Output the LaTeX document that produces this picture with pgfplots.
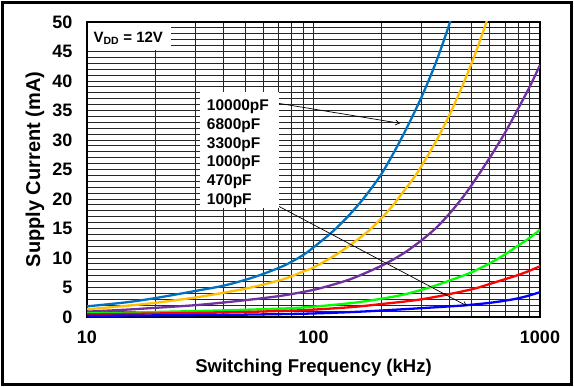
\documentclass[border=0pt]{standalone}
\usepackage{pgfplots}
\pgfplotsset{compat=1.18}
\usepackage{fontspec}
\setmainfont{Liberation Sans}
\usetikzlibrary{arrows.meta}
\definecolor{cA}{HTML}{0070C0}
\definecolor{cB}{HTML}{FFC000}
\definecolor{cC}{HTML}{7030A0}
\definecolor{cD}{HTML}{00FF00}
\definecolor{cE}{HTML}{FF0000}
\definecolor{cF}{HTML}{0000FF}
\begin{document}
\begin{tikzpicture}
\useasboundingbox (0pt,0pt) rectangle (574pt,387pt);
\begin{axis}[
  at={(87pt,70pt)}, anchor=south west,
  scale only axis, width=453pt, height=295pt,
  xmode=log, xmin=10, xmax=1000, ymin=0, ymax=50,
  xtick={10,100,1000}, xticklabels={10,100,1000},
  ytick={0,5,...,50}, minor y tick num=4,
  grid=both,
  major grid style={black!85, line width=0.8pt},
  minor grid style={black!85, line width=0.8pt},
  axis line style={line width=1.5pt},
  major tick length=0pt, minor tick length=0pt,
  tick label style={font=\bfseries\fontsize{18}{18}\selectfont},
  /pgf/number format/assume math mode=true,
  xticklabel style={yshift=-10pt},
  yticklabel style={xshift=-11pt},
  xlabel={\bfseries\fontsize{18.5}{18.5}\selectfont Switching Frequency (kHz)},
  ylabel={\bfseries\fontsize{20}{20}\selectfont Supply Current (mA)},
  xlabel style={at={(axis description cs:0.5,-0.1729)}, anchor=center},
  ylabel style={at={(axis description cs:-0.1148,0.5)}, anchor=center},
  every axis plot/.append style={line width=2.3pt, smooth, no marks},
  clip=true,
]
% 10000pF
\addplot[cA] coordinates {(10,1.8) (15,2.5) (20,3.2) (30,4.4) (40,5.3) (50,6.3) (60,7.3) (75,8.8) (90,10.5) (100,11.8) (120,14.3) (140,16.8) (160,19.3) (180,21.8) (200,24.3) (225,27.7) (250,31.0) (275,34.2) (300,37.3) (325,40.4) (350,43.5) (375,46.7) (400,49.9) (410,51.2)};
% 6800pF
\addplot[cB] coordinates {(10,1.3) (15,1.9) (20,2.4) (30,3.3) (40,4.1) (50,4.8) (60,5.5) (75,6.5) (90,7.7) (100,8.4) (125,10.5) (150,12.6) (175,14.6) (200,16.8) (225,19.0) (250,21.3) (275,23.4) (300,25.6) (350,30.0) (400,34.4) (450,38.8) (500,43.1) (550,47.4) (600,51.7)};
% 3300pF
\addplot[cC] coordinates {(10,0.9) (15,1.25) (20,1.55) (30,2.0) (40,2.45) (50,2.85) (60,3.2) (75,3.7) (100,4.6) (125,5.6) (150,6.6) (200,8.7) (250,10.8) (300,13.0) (350,15.2) (400,17.6) (450,20.0) (500,22.4) (600,27.0) (700,31.2) (800,35.3) (900,39.0) (1000,42.7)};
% 1000pF
\addplot[cD] coordinates {(10,0.6) (20,0.85) (38,1.1) (75,1.45) (100,1.75) (150,2.4) (200,3.1) (250,3.8) (300,4.6) (350,5.4) (400,6.2) (450,6.9) (500,7.6) (600,9.1) (700,10.6) (800,12.1) (900,13.4) (1000,14.8)};
% 470pF
\addplot[cE] coordinates {(10,0.45) (38,0.75) (75,1.05) (100,1.25) (150,1.7) (200,2.2) (250,2.6) (300,3.0) (350,3.45) (400,3.9) (450,4.3) (525,4.9) (600,5.6) (700,6.4) (800,7.1) (900,7.85) (1000,8.6)};
% 100pF
\addplot[cF] coordinates {(10,0.2) (38,0.35) (75,0.5) (100,0.6) (150,0.85) (200,1.1) (300,1.5) (400,1.8) (474,2.0) (600,2.4) (737,2.9) (850,3.4) (1000,4.2)};
\end{axis}
% V_DD box
\fill[white] (87.8pt,337pt) rectangle (171pt,364.2pt);
\node[anchor=base west, inner sep=0pt, font=\bfseries\fontsize{15}{15}\selectfont] at (93.3pt,344.7pt) {V\textsubscript{DD} = 12V};
% arrows
\draw[line width=0.7pt, -{Straight Barb[length=4pt,width=5pt]}] (278.3pt,283.7pt) -- (400pt,263.7pt);
\draw[line width=0.7pt, -{Straight Barb[length=4pt,width=5pt]}] (270pt,185.3pt) -- (467pt,81pt);
% legend box
\fill[white] (200pt,295.3pt) rectangle (279pt,179pt);
\begin{scope}[every node/.style={anchor=base west, inner sep=0pt, font=\bfseries\fontsize{15.5}{15.5}\selectfont}]
\node at (206.7pt,276.4pt) {10000pF};
\node at (206.7pt,257.1pt) {6800pF};
\node at (206.7pt,238.1pt) {3300pF};
\node at (206.7pt,220.4pt) {1000pF};
\node at (206.7pt,201.4pt) {470pF};
\node at (206.7pt,182.1pt) {100pF};
\end{scope}
% outer frame
\draw[line width=2.2pt] (2.5pt,2.5pt) rectangle (571.5pt,384.5pt);
\end{tikzpicture}
\end{document}
